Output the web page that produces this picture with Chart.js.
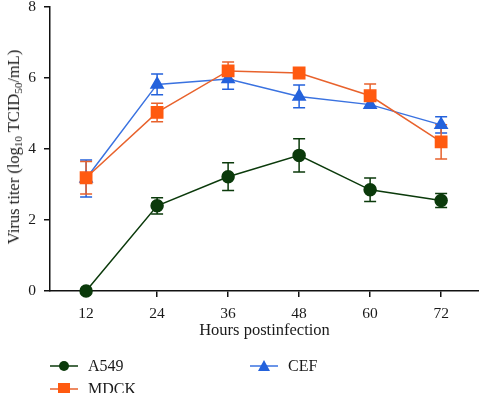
<!DOCTYPE html>
<html>
<head>
<meta charset="utf-8">
<script src="https://cdn.jsdelivr.net/npm/chart.js@4"></script>
<style>
  body { margin: 0; background: #fff; }
  #wrap { position: relative; width: 479px; height: 393px; overflow: hidden; }
  #ytitle {
    position: absolute; left: 14px; top: 147px;
    transform: translate(-50%, -50%) rotate(-90deg);
    white-space: nowrap; font: 16.5px "Liberation Serif", serif; color: #1a1a1a;
  }
  #ytitle sub { font-size: 11px; vertical-align: -3px; line-height: 0; }
  .leg { position: absolute; font: 16px "Liberation Serif", serif; color: #1a1a1a; display: flex; align-items: center; }
  .leg svg { margin-right: 10px; }
</style>
</head>
<body>
<div id="wrap">
  <canvas id="chart" width="479" height="393"></canvas>
  <div id="ytitle">Virus titer (log<sub>10</sub> TCID<sub>50</sub>/mL)</div>
  <div class="leg" style="left:50px; top:357px;">
    <svg width="28" height="14"><line x1="0" y1="7" x2="28" y2="7" stroke="#0b3a0b" stroke-width="1.5"/><circle cx="14" cy="7" r="5" fill="#0b3a0b"/></svg>A549
  </div>
  <div class="leg" style="left:250px; top:357px;">
    <svg width="28" height="14"><line x1="0" y1="7" x2="28" y2="7" stroke="#3a72e0" stroke-width="1.5"/><polygon points="14,1 20,12 8,12" fill="#2462dc"/></svg>CEF
  </div>
  <div class="leg" style="left:50px; top:380px;">
    <svg width="28" height="14"><line x1="0" y1="7" x2="28" y2="7" stroke="#e8622c" stroke-width="1.5"/><rect x="8" y="1" width="12" height="12" fill="#ff5a10"/></svg>MDCK
  </div>
</div>
<script>
const hours = [12, 24, 36, 48, 60, 72];

const a549 = [0, 2.4, 3.22, 3.82, 2.85, 2.55];
const a549Err = [0, 0.23, 0.39, 0.47, 0.33, 0.2];

const mdck = [3.19, 5.03, 6.2, 6.14, 5.5, 4.2];
const mdckErr = [0.46, 0.26, 0.25, 0.08, 0.33, 0.48];

const cef = [3.17, 5.82, 5.97, 5.48, 5.25, 4.68];
const cefErr = [0.52, 0.29, 0.29, 0.32, 0.1, 0.23];

const yTicks = [0, 2, 4, 6, 8];

function toPoints(vals) {
  return vals.map((v, i) => ({ x: hours[i], y: v }));
}

// error bars drawn under the markers
const errorBars = {
  id: "errorBars",
  beforeDatasetsDraw(chart) {
    const ctx = chart.ctx;
    const xs = chart.scales.x, ys = chart.scales.y;
    chart.data.datasets.slice().reverse().forEach(ds => {
      ctx.save();
      ctx.strokeStyle = ds.errColor;
      ctx.lineWidth = 1.5;
      ds.data.forEach((p, i) => {
        const e = ds.err[i];
        if (!e) return;
        const px = xs.getPixelForValue(p.x);
        const top = ys.getPixelForValue(p.y + e);
        const bot = ys.getPixelForValue(p.y - e);
        ctx.beginPath();
        ctx.moveTo(px, top); ctx.lineTo(px, bot);
        ctx.moveTo(px - 6, top); ctx.lineTo(px + 6, top);
        ctx.moveTo(px - 6, bot); ctx.lineTo(px + 6, bot);
        ctx.stroke();
      });
      ctx.restore();
    });
  }
};

const serif = "'Liberation Serif', serif";

new Chart(document.getElementById("chart"), {
  type: "line",
  data: {
    datasets: [
      {
        label: "A549", data: toPoints(a549), err: a549Err, errColor: "#0b3a0b",
        borderColor: "#0b3a0b", backgroundColor: "#0b3a0b",
        pointStyle: "circle", pointRadius: 6, borderWidth: 1.5, clip: false
      },
      {
        label: "MDCK", data: toPoints(mdck), err: mdckErr, errColor: "#e8622c",
        borderColor: "#e8622c", backgroundColor: "#ff5a10", pointBorderColor: "#ff5a10",
        pointStyle: "rect", pointRadius: 8, borderWidth: 1.5, clip: false
      },
      {
        label: "CEF", data: toPoints(cef), err: cefErr, errColor: "#2462dc",
        borderColor: "#3a72e0", backgroundColor: "#2462dc", pointBorderColor: "#2462dc",
        pointStyle: "triangle", pointRadius: 7, borderWidth: 1.5, clip: false
      }
    ]
  },
  options: {
    responsive: false,
    animation: false,
    layout: { autoPadding: false, padding: { top: 7, right: 0, bottom: 52, left: 0 } },
    plugins: { legend: { display: false }, tooltip: { enabled: false } },
    scales: {
      x: {
        type: "linear", min: 5.9, max: 78.4,
        afterBuildTicks(scale) { scale.ticks = hours.map(v => ({ value: v })); },
        afterFit(scale) { scale.height = 50; scale.paddingLeft = 0; scale.paddingRight = 0; },
        grid: { drawOnChartArea: false, drawTicks: true, tickLength: 6, color: "#111", lineWidth: 1.5 },
        border: { display: true, color: "#111", width: 1.5 },
        ticks: { color: "#1a1a1a", font: { family: serif, size: 15.5 }, padding: 8, maxRotation: 0 },
        title: { display: true, text: "Hours postinfection", color: "#1a1a1a", font: { family: serif, size: 16.5 }, padding: { top: 0, bottom: 0 } }
      },
      y: {
        min: 0, max: 8,
        afterBuildTicks(scale) { scale.ticks = yTicks.map(v => ({ value: v })); },
        afterFit(scale) { scale.width = 50; scale.paddingTop = 0; scale.paddingBottom = 0; },
        grid: { drawOnChartArea: false, drawTicks: true, tickLength: 6, color: "#111", lineWidth: 1.5 },
        border: { display: true, color: "#111", width: 1.5 },
        ticks: { color: "#1a1a1a", font: { family: serif, size: 15.5 }, padding: 8 }
      }
    }
  },
  plugins: [errorBars]
});
</script>
</body>
</html>
